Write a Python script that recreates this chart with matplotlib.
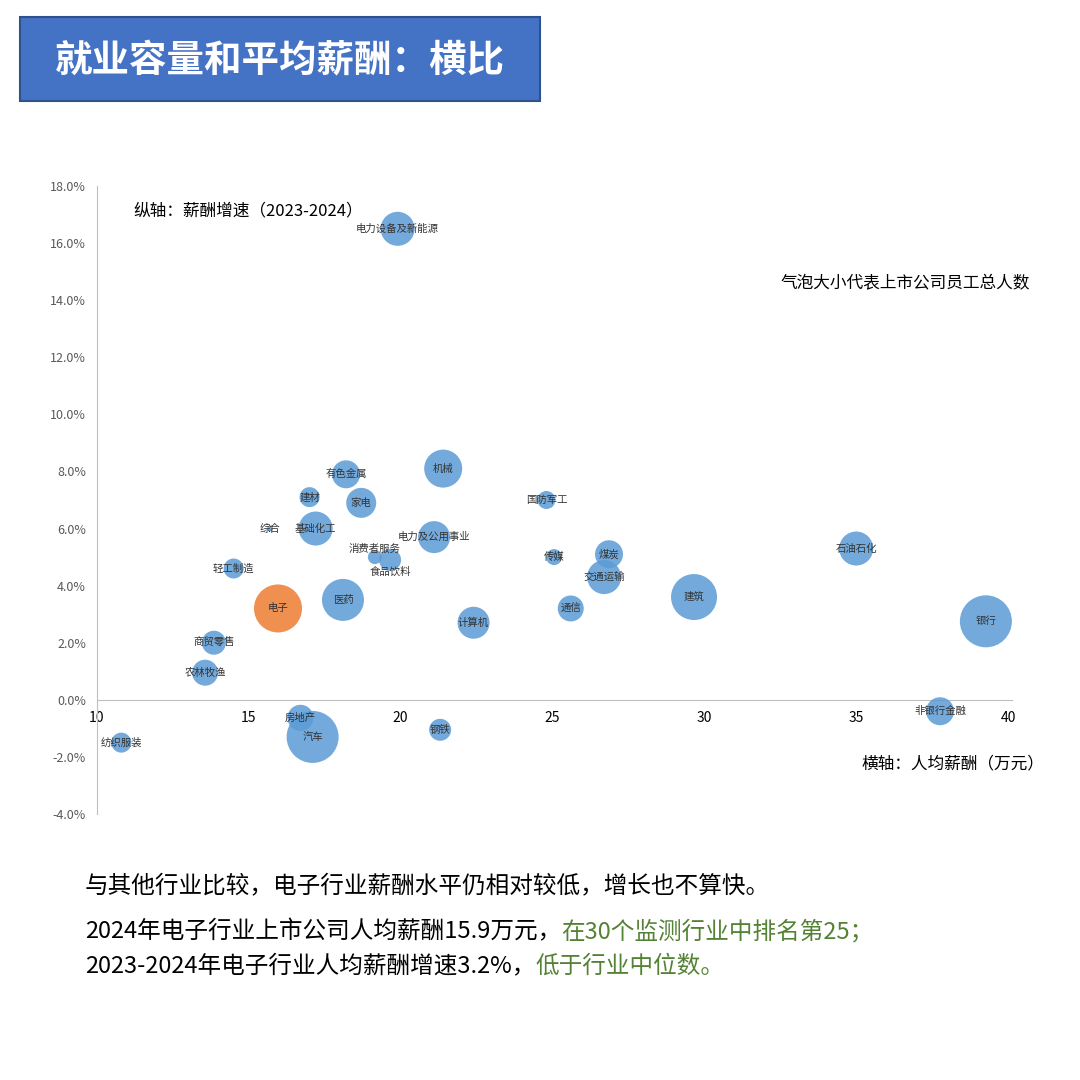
import matplotlib.pyplot as plt
from matplotlib.patches import Rectangle

plt.rcParams['font.family'] = ['Noto Sans CJK SC', 'DejaVu Sans']

# 行业数据: 人均薪酬(万元), 薪酬增速(%), 气泡半径(员工规模的相对大小)
industries = ['电力设备及新能源', '有色金属', '建材', '家电', '机械', '综合', '基础化工',
              '电力及公用事业', '消费者服务', '食品饮料', '轻工制造', '电子', '医药', '计算机',
              '商贸零售', '农林牧渔', '房地产', '汽车', '钢铁', '纺织服装', '国防军工', '传媒',
              '煤炭', '交通运输', '通信', '建筑', '石油石化', '银行', '非银行金融']
salary = [19.9, 18.2, 17.0, 18.7, 21.4, 15.7, 17.2, 21.1, 19.15, 19.65, 14.5, 15.96, 18.1, 22.4,
          13.85, 13.56, 16.7, 17.1, 21.3, 10.8, 24.8, 25.05, 26.86, 26.7, 25.6, 29.66, 35.0, 39.27, 37.76]
growth = [16.5, 7.9, 7.1, 6.9, 8.1, 6.0, 6.0, 5.7, 5.0, 4.9, 4.6, 3.2, 3.5, 2.7,
          2.0, 0.95, -0.63, -1.3, -1.05, -1.5, 7.0, 5.0, 5.1, 4.3, 3.2, 3.6, 5.3, 2.75, -0.4]
staff = [17, 14, 10, 15, 19, 3, 17, 16, 7, 11, 10, 24, 21, 16,
         12, 13, 13, 26, 11, 10, 9, 8, 14, 17, 13, 23, 17, 26, 14]

yticks = [-4, -2, 0, 2, 4, 6, 8, 10, 12, 14, 16, 18]
xticks = [10, 15, 20, 25, 30, 35, 40]

fig = plt.figure(figsize=(10.8, 10.8), dpi=100)

# 标题框
fig.patches.append(Rectangle((20 / 1080, 1 - 101 / 1080), 520 / 1080, 84 / 1080,
                             transform=fig.transFigure, facecolor='#4472C4',
                             edgecolor='#2F528F', lw=1.5))
fig.text(280 / 1080, 1 - 60 / 1080, '就业容量和平均薪酬：横比', color='white',
         fontsize=27, ha='center', va='center', fontweight='bold')

ax = fig.add_axes([97 / 1080, 266 / 1080, 915 / 1080, 628 / 1080])
colors = ['#ED7D31' if n == '电子' else '#5B9BD5' for n in industries]
sizes = [(2 * r * 0.72) ** 2 for r in staff]
ax.scatter(salary, growth, s=sizes, c=colors, alpha=0.85, edgecolors='none', zorder=3)

for n, x, y in zip(industries, salary, growth):
    if n == '消费者服务':
        y += 0.3
    if n == '食品饮料':
        y -= 0.4
    ax.text(x, y, n, fontsize=7.5, ha='center', va='center', color='#333333', zorder=4)

ax.set_xlim(10, 40.13)
ax.set_ylim(-4, 18)
ax.set_yticks(yticks)
ax.set_yticklabels([f'{v:.1f}%' for v in yticks], fontsize=9, color='#595959')
ax.set_xticks(xticks)
ax.set_xticklabels([str(v) for v in xticks], fontsize=13, color='#595959')
ax.spines['bottom'].set_position(('data', 0))
for s in ['top', 'right']:
    ax.spines[s].set_visible(False)
ax.spines['bottom'].set_color('#BFBFBF')
ax.spines['left'].set_color('#BFBFBF')
ax.tick_params(length=0, pad=8)

ax.text(0.04, 0.96, '纵轴：薪酬增速（2023-2024）', transform=ax.transAxes, fontsize=12, va='center')
ax.text(1.02, 0.845, '气泡大小代表上市公司员工总人数', transform=ax.transAxes, fontsize=12,
        ha='right', va='center')
ax.text(1.035, 0.079, '横轴：人均薪酬（万元）', transform=ax.transAxes, fontsize=12,
        ha='right', va='center')

fig.text(85 / 1080, 1 - 886 / 1080, '与其他行业比较，电子行业薪酬水平仍相对较低，增长也不算快。',
         fontsize=17, va='center')
green = '#548235'
t1 = fig.text(85 / 1080, 1 - 932 / 1080, '2024年电子行业上市公司人均薪酬15.9万元，', fontsize=17, va='center')
t2 = fig.text(85 / 1080, 1 - 966 / 1080, '2023-2024年电子行业人均薪酬增速3.2%，', fontsize=17, va='center')
fig.canvas.draw()
r = fig.canvas.get_renderer()
for t, s in [(t1, '在30个监测行业中排名第25；'), (t2, '低于行业中位数。')]:
    bb = t.get_window_extent(r)
    fig.text(bb.x1 / fig.bbox.width, t.get_position()[1], s, fontsize=17, va='center', color=green)

fig.savefig('out.png', dpi=100)
